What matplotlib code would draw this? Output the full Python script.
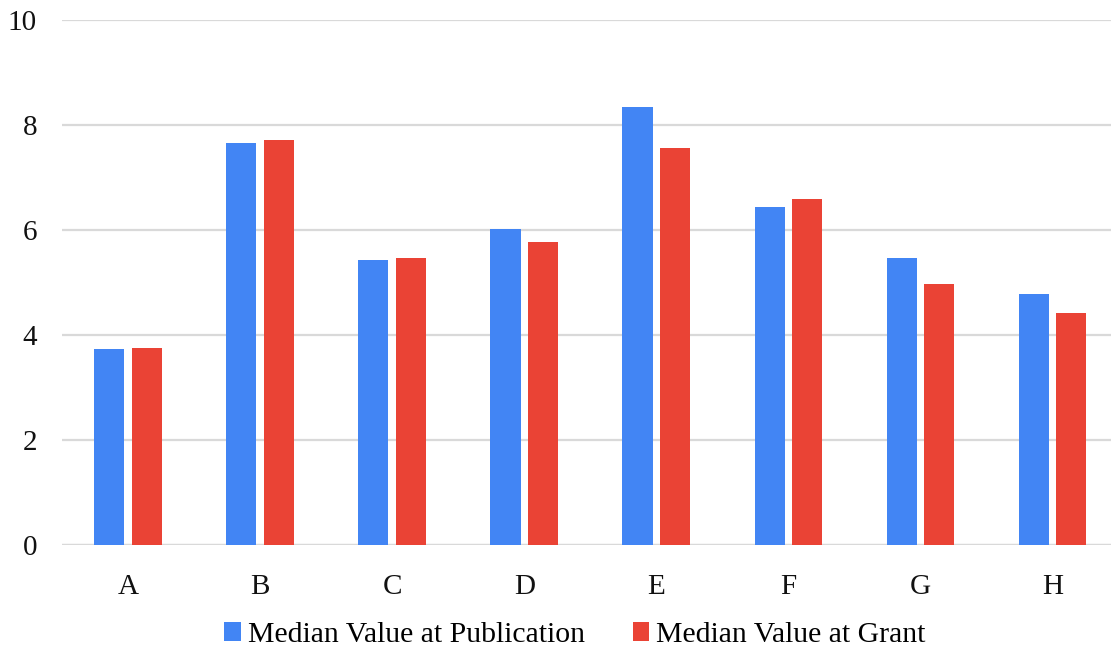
import matplotlib
matplotlib.use("Agg")
import matplotlib.pyplot as plt
import numpy as np

categories = ["A", "B", "C", "D", "E", "F", "G", "H"]
publication = [3.73, 7.66, 5.42, 6.02, 8.34, 6.43, 5.46, 4.79]
grant = [3.75, 7.71, 5.46, 5.77, 7.57, 6.60, 4.98, 4.42]
y_ticks = [0, 2, 4, 6, 8, 10]
series_names = ["Median Value at Publication", "Median Value at Grant"]

BLUE = "#4285F4"
RED = "#EA4335"
GRID = "#d9d9d9"

plt.rcParams["font.family"] = ["Liberation Serif", "DejaVu Serif"]

W, H = 1111, 647
fig = plt.figure(figsize=(W / 100, H / 100), dpi=100)
left, right, top, bottom = 62, 1118.5, 20, 545
ax = fig.add_axes([left / W, (H - bottom) / H, (right - left) / W, (bottom - top) / H])

x = np.arange(len(categories))
bw = 0.228
off = 0.142
b1 = ax.bar(x - off, publication, bw, color=BLUE, label=series_names[0], zorder=3)
b2 = ax.bar(x + off, grant, bw, color=RED, label=series_names[1], zorder=3)

ax.set_xlim(-0.5, len(categories) - 0.5)
ax.set_ylim(0, 10)
ax.set_yticks(y_ticks)
ax.set_yticklabels([str(t) for t in y_ticks])
ax.set_xticks(x)
ax.set_xticklabels(categories)
ax.yaxis.grid(True, color=GRID, linewidth=1.6, zorder=0)
ax.set_axisbelow(True)
for s in ax.spines.values():
    s.set_visible(False)
ax.axhline(0, color=GRID, linewidth=1.6, zorder=2)
ax.tick_params(axis="both", length=0, labelsize=21, colors="#111111")
ax.tick_params(axis="y", pad=18)
ax.tick_params(axis="x", pad=21)

fig.legend(handles=[b1, b2], labels=series_names, loc="center",
           bbox_to_anchor=(575 / W, 1 - 635 / H), ncol=2, frameon=False,
           fontsize=21.4, handlelength=0.55, handleheight=0.6, handletextpad=0.25,
           columnspacing=1.6)

fig.savefig("out.png", dpi=100)
